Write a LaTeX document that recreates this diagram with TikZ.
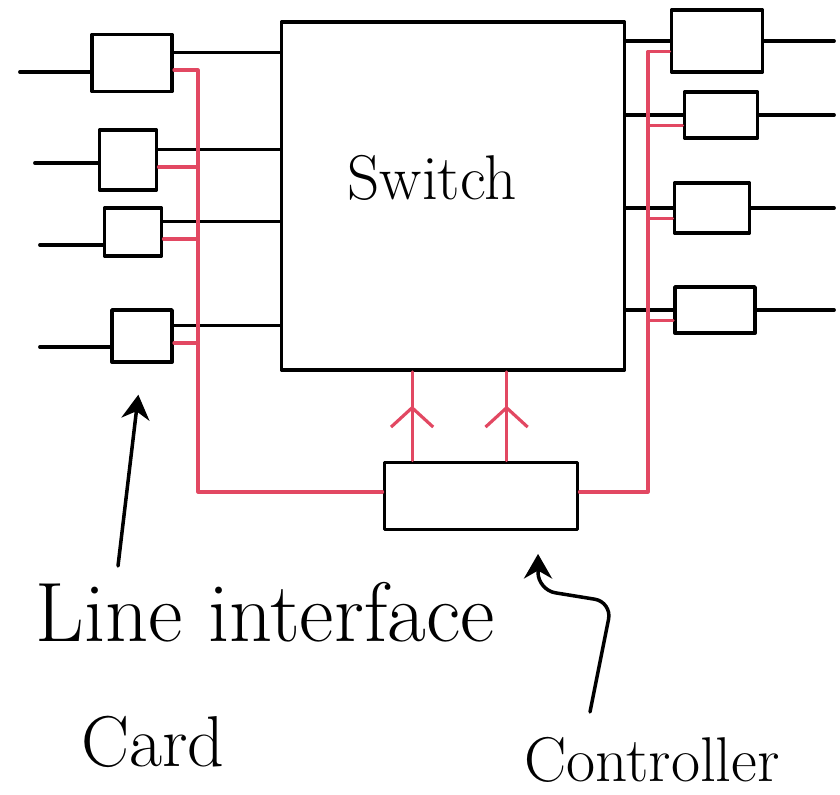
\documentclass[tikz,border=0pt]{standalone}
\usepackage{fontspec}
\usepackage{tikz}
\usetikzlibrary{arrows.meta,calc,decorations.markings}
\definecolor{busred}{RGB}{226,72,98}
\newcommand{\hand}[1]{\fontsize{#1}{#1}\selectfont}

\begin{document}
\begin{tikzpicture}[x=0.02cm, y=-0.02cm, line width=2.2pt, line cap=round, line join=round,
  box/.style={draw, line width=2.2pt, inner sep=0pt},
  wire/.style={line width=2.2pt},
  bus/.style={busred, line width=1.8pt},
  upflow/.style={bus, decoration={markings, mark=at position 0.62 with {\arrow{Straight Barb[length=11pt,width=24pt]}}}, postaction={decorate}},
  pointer/.style={line width=2pt, -{Stealth[length=14pt,width=16pt]}},
  every node/.style={font=\hand{36}}]
\useasboundingbox (0,0) rectangle (840,795);

% switch and controller
\node[box, minimum width=6.86cm, minimum height=6.96cm, label={[shift={(-21,-18)}]center:Switch}] (sw) at (453,196) {};
\node[box, minimum width=3.86cm, minimum height=1.34cm] (ctl) at (481,496) {};

% line cards, left
\node[box, minimum width=1.6cm, minimum height=1.14cm] (li1) at (132,63) {};
\node[box, minimum width=1.14cm, minimum height=1.2cm] (li2) at (128,160) {};
\node[box, minimum width=1.14cm, minimum height=0.96cm] (li3) at (133,232) {};
\node[box, minimum width=1.2cm, minimum height=1.04cm] (li4) at (142,336) {};
% line cards, right
\node[box, minimum width=1.82cm, minimum height=1.24cm] (ri1) at (717,41) {};
\node[box, minimum width=1.46cm, minimum height=0.92cm] (ri2) at (721,115) {};
\node[box, minimum width=1.5cm, minimum height=1.0cm] (ri3) at (712,208) {};
\node[box, minimum width=1.6cm, minimum height=0.92cm] (ri4) at (715,310) {};

% labels
\node[font=\hand{48}] (lic) at (265,612) {Line interface};
\node[font=\hand{41}] (card) at (153,742) {Card};
\node[font=\hand{36}] (ctlname) at (652,760) {Controller};

\coordinate (in1) at (20,72);
\coordinate (in2) at (35,163);
\coordinate (in3) at (40,245);
\coordinate (in4) at (40,347);
\coordinate (rim) at (834,0);
\coordinate (lbus) at (198,492);
\coordinate (rbus) at (648,492);

% data lines
\foreach \n in {1,...,4} {
  \draw[wire] (in\n) -- (in\n -| li\n.west);
  \draw[wire] ([yshift=6pt]li\n.east) -- ([yshift=6pt]li\n.east -| sw.west);
  \draw[wire] (sw.east |- ri\n.west) -- (ri\n.west);
  \draw[wire] (ri\n.east) -- (ri\n.east -| rim);
}

% control lines
\draw[bus] ([yshift=-4pt]li1.east) -| (lbus) -- (lbus -| ctl.west);
\foreach \n in {2,3,4}
  \draw[bus] ([yshift=-4pt]li\n.east) -- ([yshift=-4pt]li\n.east -| lbus);
\draw[bus] ([yshift=-6pt]ri1.west) -| (rbus) -- (rbus -| ctl.east);
\foreach \n in {2,3,4}
  \draw[bus] ([yshift=-6pt]ri\n.west) -- ([yshift=-6pt]ri\n.west -| rbus);
\foreach \t [count=\i] in {0.15,0.63} {
  \coordinate (up\i) at ($(ctl.north west)!\t!(ctl.north east)$);
  \draw[upflow] (up\i) -- (up\i |- sw.south);
}

% pointers
\coordinate (p1) at (118,566);
\draw[pointer, shorten >=0.62cm] (p1) -- (li4.south);
\coordinate (p2) at (590,712);
\coordinate (k1) at (612,602);
\coordinate (k2) at (538,590);
\coordinate (c8) at ($(ctl.south west)!0.79!(ctl.south east)$);
\draw[pointer, rounded corners=10pt, shorten >=0.45cm] (p2) -- (k1) -- (k2) -- (c8);
\end{tikzpicture}
\end{document}
